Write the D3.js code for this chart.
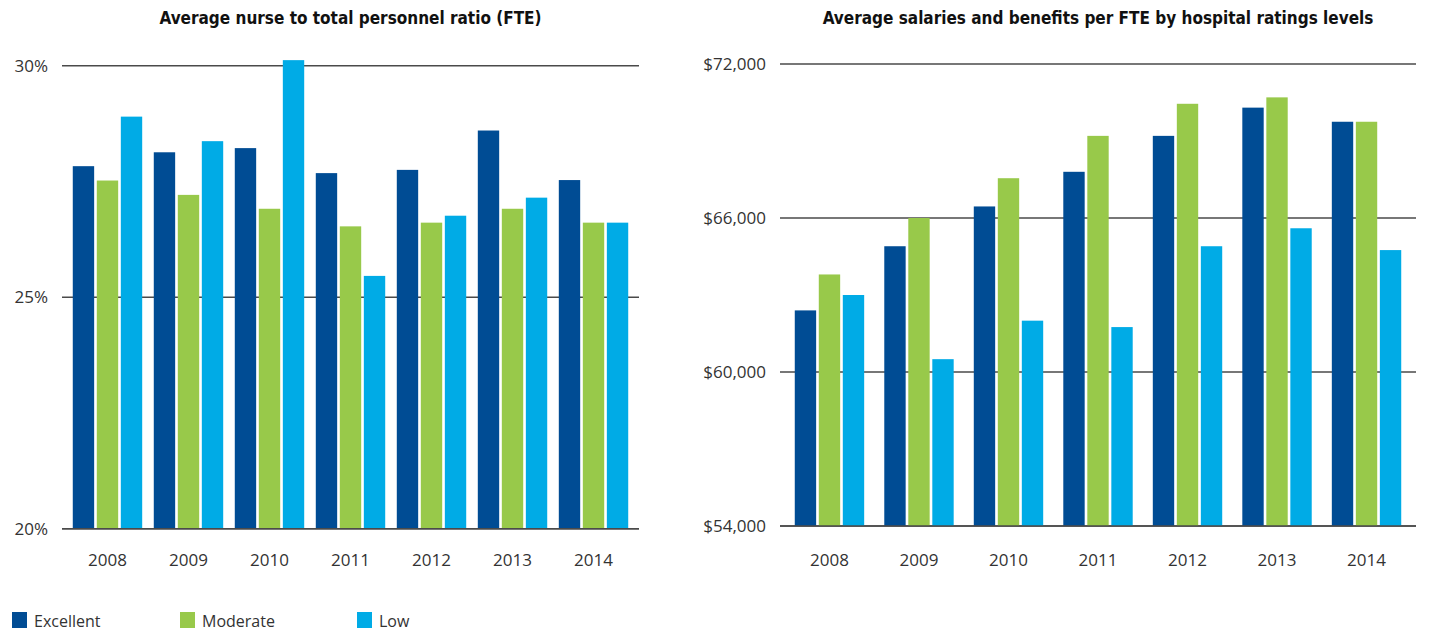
<!DOCTYPE html>
<html><head><meta charset="utf-8">
<script src="https://cdn.jsdelivr.net/npm/d3@7"></script>
<style>
body{margin:0;background:#fff;}
svg{display:block;}
</style></head>
<body>
<svg id="c" width="1429" height="634"></svg>
<script>
const years = ["2008","2009","2010","2011","2012","2013","2014"];
const seriesNames = ["Excellent","Moderate","Low"];
const colors = ["#004C94","#98C94A","#00ABE6"];

// Left chart: nurse to total personnel ratio (%)
const ratioExcellent = [27.83, 28.13, 28.22, 27.68, 27.75, 28.60, 27.53];
const ratioModerate  = [27.52, 27.21, 26.91, 26.53, 26.61, 26.91, 26.61];
const ratioLow       = [28.90, 28.37, 30.12, 25.46, 26.76, 27.15, 26.61];
const ratioTicks = [20, 25, 30];

// Right chart: salaries and benefits per FTE ($)
const salaryExcellent = [62400, 64900, 66450, 67800, 69200, 70300, 69750];
const salaryModerate  = [63800, 66000, 67550, 69200, 70450, 70700, 69750];
const salaryLow       = [63000, 60500, 62000, 61750, 64900, 65600, 64750];
const salaryTicks = [54000, 60000, 66000, 72000];

const svg = d3.select("#c");
const font = "'Open Sans', sans-serif";
const titleFont = "'DejaVu Sans Condensed', 'Liberation Sans Narrow', sans-serif";

function drawChart(cfg){
  const g = svg.append("g");
  const x0 = d3.scaleBand().domain(years).range([cfg.x0, cfg.x1])
      .paddingInner(cfg.pi).paddingOuter(cfg.po);
  const x1 = d3.scaleBand().domain(seriesNames).range([0, x0.bandwidth()]).paddingInner(0.11);
  const y = d3.scaleLinear().domain(cfg.domain).range([cfg.yb, cfg.yt]);

  // title
  g.append("text").attr("x", (cfg.x0+cfg.x1)/2).attr("y", 24)
    .attr("text-anchor","middle").attr("font-family", titleFont)
    .attr("font-weight","bold").attr("font-size", 17).attr("fill","#111")
    .text(cfg.title);

  // gridlines
  g.append("g").selectAll("line").data(cfg.ticks).join("line")
    .attr("x1", cfg.x0).attr("x2", cfg.x1)
    .attr("y1", d=>y(d)).attr("y2", d=>y(d))
    .attr("stroke","#4a4a4a").attr("stroke-width",1.6);

  // y tick labels
  g.append("g").selectAll("text").data(cfg.ticks).join("text")
    .attr("x", cfg.x0 - 14).attr("y", d=>y(d)).attr("dy","0.35em")
    .attr("text-anchor","end").attr("font-family", font).attr("font-size", 17)
    .attr("fill","#333").text(cfg.fmt);

  // bars
  const data = years.map((yr,i)=>({year:yr, vals: cfg.series.map((s,k)=>({name:seriesNames[k], v:s[i], k}))}));
  const grp = g.append("g").selectAll("g").data(data).join("g")
    .attr("transform", d=>`translate(${x0(d.year)},0)`);
  grp.selectAll("rect").data(d=>d.vals).join("rect")
    .attr("x", d=>x1(d.name)).attr("width", x1.bandwidth())
    .attr("y", d=>y(d.v)).attr("height", d=>y(cfg.domain[0]) - y(d.v))
    .attr("fill", d=>colors[d.k]);

  // baseline redraw
  g.append("line").attr("x1", cfg.x0).attr("x2", cfg.x1)
    .attr("y1", y(cfg.domain[0])).attr("y2", y(cfg.domain[0]))
    .attr("stroke","#4a4a4a").attr("stroke-width",1.6);

  // x labels
  g.append("g").selectAll("text").data(years).join("text")
    .attr("x", d=>x0(d)+x0.bandwidth()/2).attr("y", 560).attr("dy","0.35em")
    .attr("text-anchor","middle").attr("font-family", font).attr("font-size", 17)
    .attr("fill","#333").text(d=>d);
}

drawChart({
  title:"Average nurse to total personnel ratio (FTE)",
  x0:62, x1:639, pi:0.143, po:0.133,
  domain:[20,30], yb:528.7, yt:65.7,
  ticks: ratioTicks, fmt: d=>d+"%",
  series:[ratioExcellent, ratioModerate, ratioLow]
});
drawChart({
  title:"Average salaries and benefits per FTE by hospital ratings levels",
  x0:780, x1:1416, pi:0.2246, po:0.165,
  domain:[54000,72000], yb:526, yt:64,
  ticks: salaryTicks, fmt: d=>"$"+d3.format(",")(d),
  series:[salaryExcellent, salaryModerate, salaryLow]
});

// legend
const legendX = [12, 180, 357];
const lg = svg.append("g").selectAll("g").data(seriesNames).join("g")
  .attr("transform",(d,i)=>`translate(${legendX[i]},612)`);
lg.append("rect").attr("width",15).attr("height",16).attr("fill",(d,i)=>colors[i]);
lg.append("text").attr("x",22).attr("y",9).attr("dy","0.35em")
  .attr("font-family", font).attr("font-size",16).attr("fill","#333").text(d=>d);
</script>
</body></html>
